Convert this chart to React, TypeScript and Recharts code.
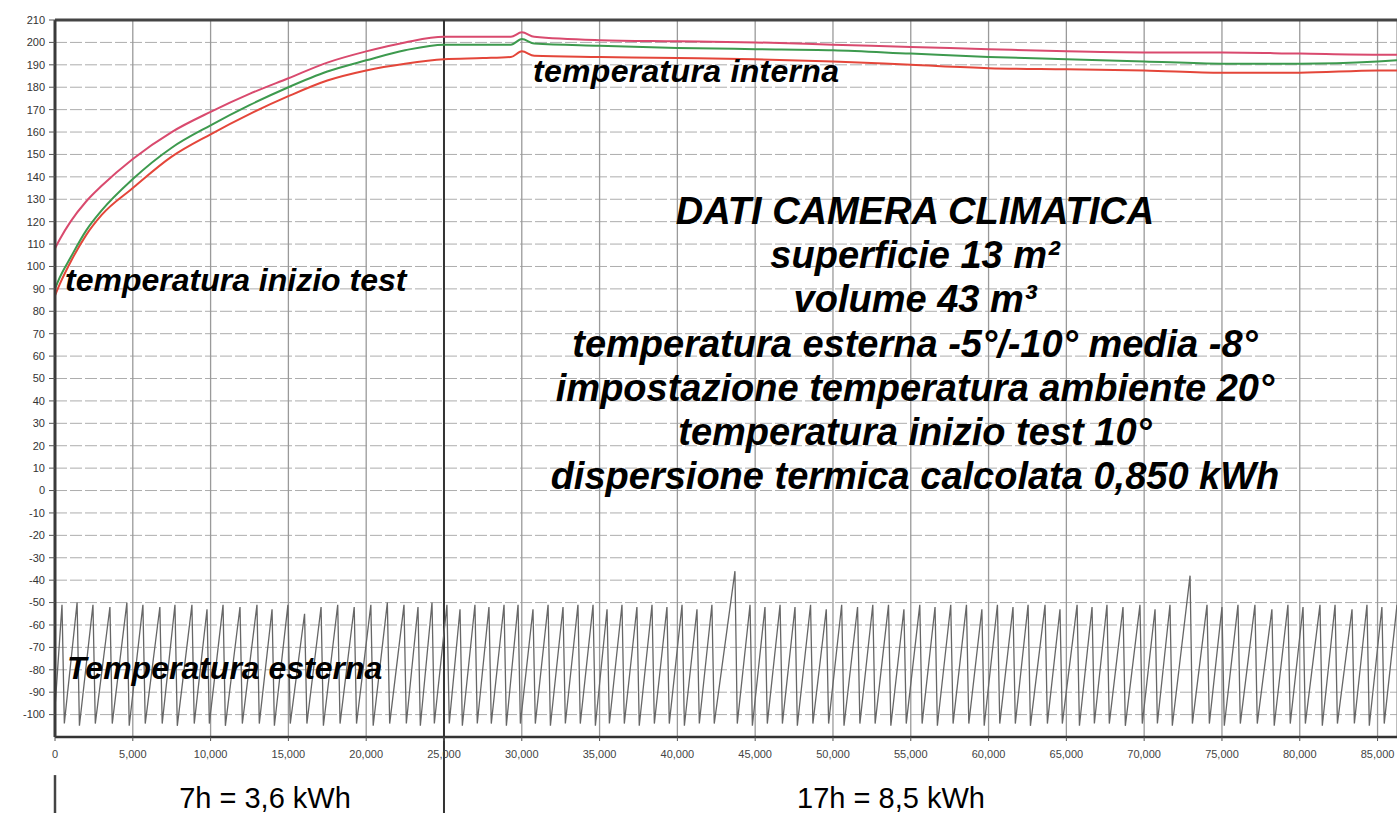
import { LineChart, Line, XAxis, YAxis, CartesianGrid, ReferenceLine } from 'recharts'

// time in seconds, temperatures in tenths of a degree (as the logger reports them)
const innerTimes = [0, 300, 1000, 2000, 3000, 5000, 7500, 10000, 12500, 15000, 17500, 20000, 22500, 25000, 27500, 29300, 30000, 30800, 35000, 40000, 45000, 50000, 55000, 60000, 65000, 70000, 75000, 80000, 85000, 86250]
const upperTemp = [108, 112, 120, 129, 136, 148, 160, 169, 177, 184, 191, 196, 200, 202.5, 202.5, 202.5, 204.5, 202.5, 201, 200.5, 200, 199, 198, 197, 196, 195.5, 195.5, 195, 194.5, 194.5]
const middleTemp = [90, 95, 104, 116, 125, 139, 153, 163, 172, 180, 187, 192, 196.5, 199, 199, 199, 201.5, 199.5, 198.5, 197.5, 197, 196.5, 195, 193.5, 192.5, 191.5, 190.5, 190.5, 191.5, 192]
const lowerTemp = [87, 92, 102, 114, 123, 135, 149, 159, 168, 176, 183, 187.5, 190.5, 192.5, 193, 193.5, 196, 194, 193.5, 193, 192.5, 191.5, 190, 188.5, 188, 187.5, 186.5, 186.5, 187.5, 187.5]

// external probe: [time, temp] – peak then quick drop, cycle after cycle
const externalTemp: [number, number][] = [
  [0, -97], [450, -51], [600, -104], [1420, -50], [1570, -105], [2440, -51], [2590, -104],
  [3530, -52], [3680, -104], [4620, -50], [4770, -105], [5650, -51], [5800, -104],
  [6740, -52], [6890, -104], [7710, -51], [7860, -105], [8800, -51], [8950, -104],
  [9770, -53], [9920, -104], [10800, -51], [10950, -105], [11890, -52], [12040, -104],
  [12980, -51], [13130, -104], [13950, -53], [14100, -105], [14970, -51], [15120, -104],
  [16040, -55], [16190, -104], [17100, -52], [17250, -105], [18170, -51], [18320, -104],
  [19230, -52], [19380, -104], [20300, -51], [20450, -105], [21360, -50], [21510, -104],
  [22430, -51], [22580, -104], [23330, -52], [23480, -105], [24230, -50], [24380, -104],
  [25190, -51], [25340, -104], [26030, -53], [26180, -105], [26990, -51], [27140, -104],
  [27890, -52], [28040, -104], [28860, -51], [29010, -105], [29760, -51], [29910, -104],
  [30720, -53], [30870, -104], [31690, -51], [31840, -105], [32650, -52], [32800, -104],
  [33610, -51], [33760, -104], [34580, -51], [34730, -105], [35480, -53], [35630, -104],
  [36440, -51], [36590, -104], [37400, -52], [37550, -105], [38370, -51], [38520, -104],
  [39330, -52], [39480, -104], [40300, -51], [40450, -105], [41260, -53], [41410, -104],
  [42220, -51], [42370, -104], [43700, -36], [43850, -104], [44670, -51], [44820, -105],
  [45630, -52], [45780, -104], [46600, -51], [46750, -104], [47560, -52], [47710, -105],
  [48560, -51], [48710, -104], [49570, -53], [49720, -104], [50560, -51], [50710, -105],
  [51580, -52], [51730, -104], [52560, -51], [52710, -104], [53570, -51], [53720, -105],
  [54560, -53], [54710, -104], [55580, -51], [55730, -104], [56560, -52], [56710, -105],
  [57570, -51], [57720, -104], [58580, -51], [58730, -104], [59570, -53], [59720, -105],
  [60570, -51], [60720, -104], [61570, -52], [61720, -104], [62540, -51], [62690, -105],
  [63630, -51], [63780, -104], [64590, -53], [64740, -104], [65690, -51], [65840, -105],
  [66650, -52], [66800, -104], [67610, -51], [67760, -104], [68640, -52], [68790, -105],
  [69730, -51], [69880, -104], [70700, -53], [70850, -104], [71660, -51], [71810, -105],
  [72950, -38], [73100, -104], [74040, -51], [74190, -104], [75000, -52], [75150, -105],
  [76030, -51], [76180, -104], [77120, -51], [77270, -104], [78210, -53], [78360, -105],
  [79240, -51], [79390, -104], [80210, -52], [80360, -104], [81300, -51], [81450, -105],
  [82270, -51], [82420, -104], [83360, -53], [83510, -104], [84320, -51], [84470, -105],
  [85280, -52], [85430, -104], [86250, -51],
]

const xTicks = [0, 5000, 10000, 15000, 20000, 25000, 30000, 35000, 40000, 45000, 50000, 55000, 60000, 65000, 70000, 75000, 80000, 85000]
const yTicks = [-100, -90, -80, -70, -60, -50, -40, -30, -20, -10, 0, 10, 20, 30, 40, 50, 60, 70, 80, 90, 100, 110, 120, 130, 140, 150, 160, 170, 180, 190, 200, 210]

const infoLines = [
  'DATI CAMERA CLIMATICA',
  'superficie 13 m²',
  'volume 43 m³',
  'temperatura esterna -5°/-10° media -8°',
  'impostazione temperatura ambiente 20°',
  'temperatura inizio test 10°',
  'dispersione termica calcolata 0,850 kWh',
]
const energyLabels = ['7h = 3,6 kWh', '17h = 8,5 kWh']

const FONT = '"Liberation Sans", Arial, sans-serif'

const upperData = innerTimes.map((t, i) => ({ t, v: upperTemp[i] }))
const middleData = innerTimes.map((t, i) => ({ t, v: middleTemp[i] }))
const lowerData = innerTimes.map((t, i) => ({ t, v: lowerTemp[i] }))
const extData = externalTemp.map(([t, v]) => ({ t, v }))

function fmtX(v: number) {
  return v === 0 ? '0' : v.toLocaleString('en-US')
}

export default function App() {
  const W = 1397
  const H = 813
  return (
    <div style={{ position: 'relative', width: W, height: H, background: '#fff', fontFamily: FONT }}>
      <style>{'body{margin:0}'}</style>
      <LineChart width={W} height={H} margin={{ top: 20, right: 0, bottom: 46, left: 0 }}>
        <CartesianGrid vertical={false} stroke="#adadad" strokeDasharray="12 3" />
        <CartesianGrid horizontal={false} stroke="#9a9a9a" strokeWidth={1.3} />
        <XAxis
          type="number"
          dataKey="t"
          domain={[0, 86250]}
          allowDataOverflow
          ticks={xTicks}
          tickFormatter={fmtX}
          height={30}
          tick={{ fill: '#444', fontSize: 11, fontFamily: FONT }}
          tickSize={4}
          tickMargin={9}
          axisLine={{ stroke: '#333', strokeWidth: 2.5 }}
          tickLine={{ stroke: '#555' }}
        />
        <YAxis
          type="number"
          domain={[-110, 210]}
          ticks={yTicks}
          interval={0}
          width={55}
          tick={{ fill: '#333', fontSize: 11, fontFamily: FONT }}
          tickSize={6}
          tickMargin={4}
          axisLine={{ stroke: '#3a3a3a', strokeWidth: 3 }}
          tickLine={{ stroke: '#555' }}
        />
        <ReferenceLine y={210} stroke="#444" strokeWidth={3} />
        <ReferenceLine
          segment={[{ x: 25000, y: 210 }, { x: 25000, y: -160 }]}
          stroke="#333"
          strokeWidth={2}
          ifOverflow="visible"
        />
        <ReferenceLine
          segment={[{ x: 0, y: -127 }, { x: 0, y: -160 }]}
          stroke="#444"
          strokeWidth={2.5}
          ifOverflow="visible"
        />
        <Line data={extData} dataKey="v" type="linear" stroke="#666" strokeWidth={1.3} dot={false} isAnimationActive={false} />
        <Line data={lowerData} dataKey="v" type="monotone" stroke="#e4463a" strokeWidth={2} dot={false} isAnimationActive={false} />
        <Line data={middleData} dataKey="v" type="monotone" stroke="#3d9a4e" strokeWidth={2} dot={false} isAnimationActive={false} />
        <Line data={upperData} dataKey="v" type="monotone" stroke="#d94a6e" strokeWidth={2} dot={false} isAnimationActive={false} />
      </LineChart>

      <svg width={W} height={H} style={{ position: 'absolute', left: 0, top: 0, pointerEvents: 'none' }}>
        <g fontFamily={FONT} fontWeight="bold" fontStyle="italic" fill="#000">
          <text x={533} y={82} fontSize={32} letterSpacing={0.3}>temperatura interna</text>
          <text x={65} y={291} fontSize={32}>temperatura inizio test</text>
          <text x={67} y={679} fontSize={32}>Temperatura esterna</text>
          {infoLines.map((line, i) => (
            <text key={line} x={915} y={224 + i * 44.2} fontSize={38} textAnchor="middle">{line}</text>
          ))}
        </g>
        <g fontFamily={FONT} fill="#000" fontSize={29} textAnchor="middle">
          <text x={265} y={808}>{energyLabels[0]}</text>
          <text x={891} y={808}>{energyLabels[1]}</text>
        </g>
      </svg>
    </div>
  )
}
